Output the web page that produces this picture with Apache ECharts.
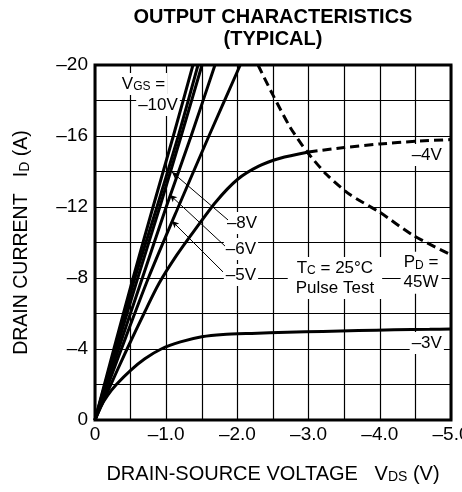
<!DOCTYPE html>
<html>
<head>
<meta charset="utf-8">
<script src="https://cdn.jsdelivr.net/npm/echarts/dist/echarts.min.js"></script>
<style>
html,body{margin:0;padding:0;background:#fff;}
#c{width:462px;height:492px;}
</style>
</head>
<body>
<div id="c"></div>
<script>
// ---- text ----
const titleLines = ['OUTPUT CHARACTERISTICS', '(TYPICAL)'];
const xTickValues = [0, -1, -2, -3, -4, -5];
const xTickLabels = ['0', '–1.0', '–2.0', '–3.0', '–4.0', '–5.0'];
const yTickValues = [0, -4, -8, -12, -16, -20];
const yTickLabels = ['0', '–4', '–8', '–12', '–16', '–20'];

// ---- data (VDS in V, ID in A) ----
const idLinear = [0, -4, -8, -12, -16, -20];
const vdsG10 = [0, -0.265, -0.535, -0.815, -1.1, -1.376];
const vdsG8  = [0, -0.28, -0.56, -0.87, -1.17, -1.447];
const vdsG7  = [0, -0.3, -0.6, -0.91, -1.21, -1.503];
const vdsG6  = [0, -0.33, -0.665, -1.0, -1.35, -1.685];
const vdsG5  = [0, -0.37, -0.75, -1.17, -1.6, -2.04];

const vdsG4  = [0, -0.2, -0.45, -0.7, -0.9, -1.15, -1.4, -1.7, -2.0, -2.3, -2.6, -3.0];
const idG4   = [0, -1.8, -4.0, -6.1, -7.7, -9.3, -10.7, -12.3, -13.55, -14.3, -14.75, -15.1];
const vdsG4d = [-3.0, -3.5, -4.0, -4.5, -5.0];
const idG4d  = [-15.1, -15.35, -15.55, -15.7, -15.8];

const vdsG3  = [0, -0.08, -0.18, -0.3, -0.5, -0.7, -0.93, -1.2, -1.5, -1.8, -2.2, -2.7, -3.2, -3.7, -4.2, -4.7, -5.0];
const idG3   = [0, -0.75, -1.4, -2.0, -2.8, -3.45, -4.0, -4.4, -4.69, -4.82, -4.88, -4.94, -4.99, -5.04, -5.08, -5.11, -5.13];

const vdsPd  = [-2.29, -2.5, -2.74, -2.98, -3.26, -3.58, -4.0, -4.47, -5.0];
const idPd   = [-20, -18.3, -16.5, -15.1, -13.8, -12.7, -11.7, -10.4, -9.3];

// ---- build ----
const FONT = '"Liberation Sans", Arial, Helvetica, sans-serif';
function pts(vs, is) { return vs.map((v, k) => [v, is[k]]); }
function lineSeries(name, data, dashed) {
  return {
    name: name, type: 'line', data: data, symbol: 'none', z: 5,
    smooth: 0.25, silent: true,
    lineStyle: { color: '#000', width: 3, type: dashed ? [9, 5] : 'solid', cap: 'butt' }
  };
}
const subRich = {
  s: { fontSize: 12, fontFamily: FONT, color: '#000', verticalAlign: 'bottom', padding: [0, 0, 1, 0] }
};
function ann(v, i, text, extra) {
  return Object.assign({
    value: [v, i],
    label: Object.assign({
      show: true, position: 'inside', formatter: text, color: '#000', opacity: 1,
      textBorderWidth: 0, fontSize: 17, fontFamily: FONT, backgroundColor: '#fff', padding: [1, 2],
      lineHeight: 20, align: 'center', rich: subRich
    }, extra || {})
  });
}

const chart = echarts.init(document.getElementById('c'), null, { renderer: 'canvas' });
const option = {
  animation: false,
  backgroundColor: '#fff',
  grid: { left: 95, right: 11, top: 65, bottom: 72, show: true, borderColor: '#000', borderWidth: 3,
          containLabel: false, outerBoundsMode: 'none' },
  xAxis: {
    type: 'value', min: -5, max: 0, interval: 0.5, inverse: true,
    axisLine: { show: false }, axisTick: { show: false },
    splitLine: { show: true, lineStyle: { color: '#000', width: 1.2 } },
    axisLabel: {
      color: '#000', fontSize: 19, fontFamily: FONT, margin: 5,
      showMinLabel: true, showMaxLabel: true, hideOverlap: false,
      formatter: function (v) {
        const k = xTickValues.findIndex(t => Math.abs(t - v) < 1e-6);
        return k < 0 ? '' : xTickLabels[k];
      }
    },
    name: 'DRAIN-SOURCE VOLTAGE   V{s|DS} (V)',
    nameLocation: 'middle', nameGap: 44,
    nameTextStyle: { color: '#000', fontSize: 20, fontFamily: FONT,
      rich: { s: { fontSize: 14, fontFamily: FONT, color: '#000', verticalAlign: 'bottom' } } }
  },
  yAxis: {
    type: 'value', min: -20, max: 0, interval: 2, inverse: true,
    axisLine: { show: false }, axisTick: { show: false },
    splitLine: { show: true, lineStyle: { color: '#000', width: 1.2 } },
    axisLabel: {
      color: '#000', fontSize: 19, fontFamily: FONT, margin: 7,
      showMinLabel: true, showMaxLabel: true,
      formatter: function (v) {
        const k = yTickValues.findIndex(t => Math.abs(t - v) < 1e-6);
        return k < 0 ? '' : yTickLabels[k];
      }
    },
    name: 'DRAIN CURRENT   I{s|D} (A)',
    nameLocation: 'middle', nameGap: 63,
    nameTextStyle: { color: '#000', fontSize: 19.5, fontFamily: FONT,
      rich: { s: { fontSize: 14, fontFamily: FONT, color: '#000', verticalAlign: 'bottom' } } }
  },
  graphic: [
    { type: 'text', x: 273, y: 17, style: { text: titleLines[0], fill: '#000', font: 'bold 20px ' + FONT, textAlign: 'center', textVerticalAlign: 'middle' } },
    { type: 'text', x: 273, y: 39, style: { text: titleLines[1], fill: '#000', font: 'bold 20px ' + FONT, textAlign: 'center', textVerticalAlign: 'middle' } }
  ],
  series: [
    {
      name: 'annotations', type: 'scatter', symbolSize: 0, z: 3, silent: true,
      itemStyle: { color: 'rgba(0,0,0,0)', opacity: 1 },
      data: [
        ann(-0.681, -18.93, 'V{s|GS} ='),
        ann(-0.885, -17.75, '–10V'),
        ann(-2.065, -11.1, '–8V'),
        ann(-2.05, -9.63, '–6V'),
        ann(-2.05, -8.17, '–5V'),
        ann(-4.66, -14.93, '–4V'),
        ann(-4.66, -4.34, '–3V'),
        ann(-3.37, -8.0, 'T{s|C} = 25°C\nPulse Test', { padding: [1, 8] }),
        ann(-4.58, -8.3, 'P{s|D} =\n45W', { padding: [1, 3] })
      ],
      markLine: {
        silent: true, symbol: ['arrow', 'none'], symbolSize: [5, 7],
        label: { show: false },
        lineStyle: { color: '#000', width: 1, type: 'solid', opacity: 1 },
        data: [
          [{ coord: [-1.081, -13.97] }, { coord: [-1.868, -11.27] }],
          [{ coord: [-1.053, -12.68] }, { coord: [-1.826, -9.8] }],
          [{ coord: [-1.081, -11.21] }, { coord: [-1.798, -8.34] }]
        ]
      }
    },
    lineSeries('VGS -10V', pts(vdsG10, idLinear)),
    lineSeries('VGS -8V', pts(vdsG8, idLinear)),
    lineSeries('VGS -7V', pts(vdsG7, idLinear)),
    lineSeries('VGS -6V', pts(vdsG6, idLinear)),
    lineSeries('VGS -5V', pts(vdsG5, idLinear)),
    lineSeries('VGS -4V', pts(vdsG4, idG4)),
    lineSeries('VGS -4V (limit)', pts(vdsG4d, idG4d), true),
    lineSeries('VGS -3V', pts(vdsG3, idG3)),
    lineSeries('PD = 45W', pts(vdsPd, idPd), true)
  ]
};
chart.setOption(option);
</script>
</body>
</html>
